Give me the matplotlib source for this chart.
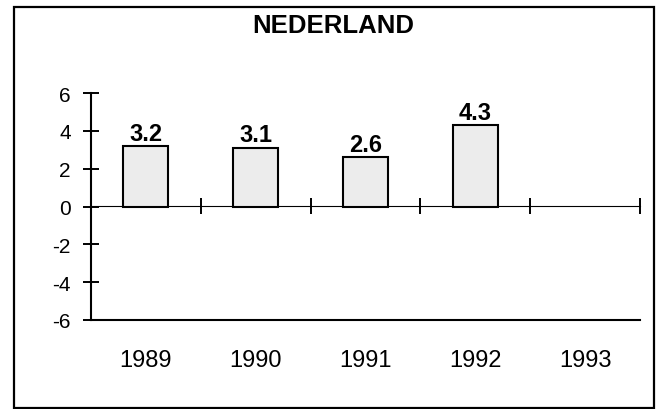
import matplotlib
matplotlib.use("Agg")
import matplotlib.pyplot as plt
from matplotlib.patches import Rectangle

plt.rcParams['font.family'] = ['Liberation Sans', 'DejaVu Sans']

title = "NEDERLAND"
years = ["1989", "1990", "1991", "1992", "1993"]
values = [3.2, 3.1, 2.6, 4.3, None]
yticks = [-6, -4, -2, 0, 2, 4, 6]

fig = plt.figure(figsize=(6.57, 4.10), dpi=100)
ax = fig.add_axes([91/657, 1-321/410, 549/657, 227/410])

xs = [i + 0.5 for i in range(len(years))]
bx = [x for x, v in zip(xs, values) if v is not None]
bv = [v for v in values if v is not None]
bars = ax.bar(bx, bv, width=0.41, color='#ececec', edgecolor='black', linewidth=1.5, zorder=3)
for x, v in zip(bx, bv):
    ax.annotate(f"{v:.1f}", (x, v), xytext=(0, 1), textcoords='offset points',
                ha='center', va='bottom', fontsize=17, fontweight='bold')

ax.set_xlim(0, len(years))
ax.set_ylim(-6, 6)
ax.set_yticks(yticks)
ax.set_yticklabels([str(t) for t in yticks])
ax.tick_params(axis='y', direction='inout', length=12, width=1.4, pad=8.5, labelsize=15)
ax.set_xticks(xs)
ax.set_xticklabels(years)
ax.tick_params(axis='x', length=0, pad=21, labelsize=17)

for s in ['top', 'right']:
    ax.spines[s].set_visible(False)
ax.spines['left'].set_linewidth(1.5)
ax.spines['bottom'].set_linewidth(1.5)

sec = ax.secondary_xaxis(0.5)
sec.set_xticks(range(1, len(years) + 1))
sec.set_xticklabels([])
sec.tick_params(direction='inout', length=12, width=1.4)
sec.spines['bottom'].set_linewidth(1.5)

fig.text(333/657, 1-26/410, title, ha='center', va='center', fontsize=18.5, fontweight='bold')

fig.patches.append(Rectangle((14/657, 1/410), 640/657, 401/410, transform=fig.transFigure,
                             fill=False, edgecolor='black', linewidth=1.6))

fig.savefig("out.png", dpi=100)
